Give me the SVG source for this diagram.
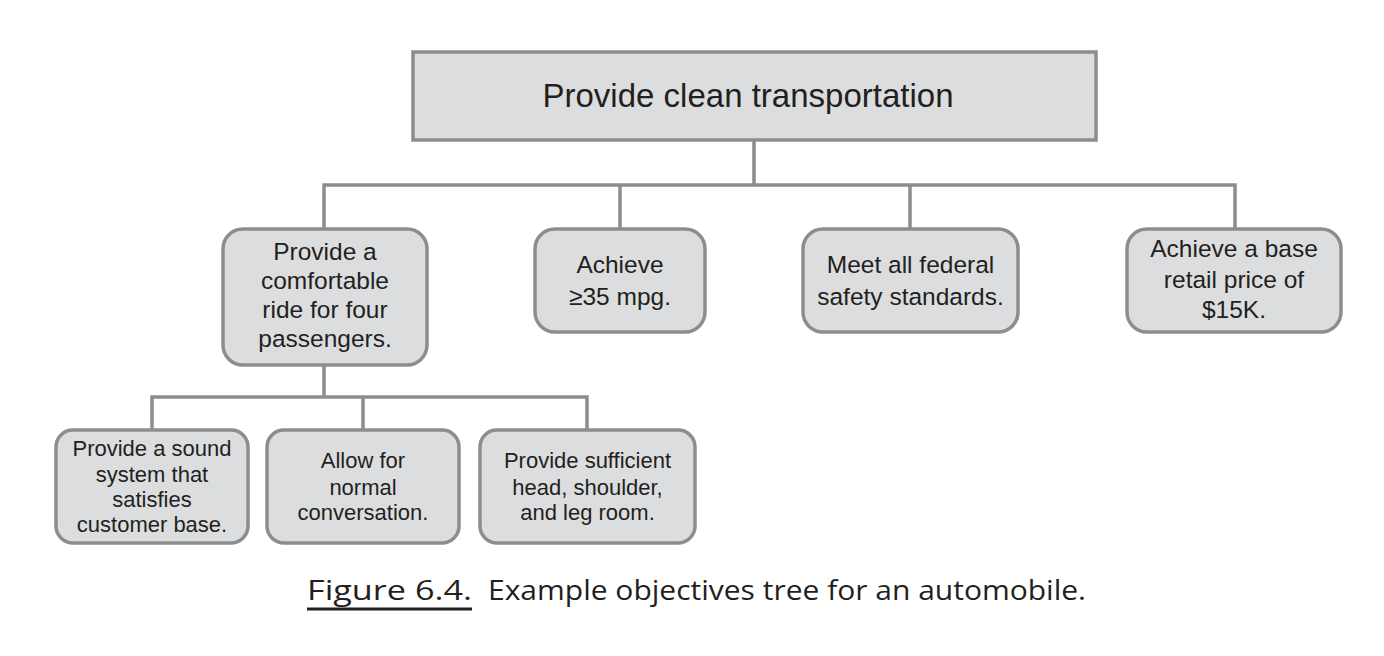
<svg xmlns="http://www.w3.org/2000/svg" width="1384" height="656" viewBox="0 0 1384 656">
<style>
.box{fill:#dcdddf;stroke:#8c8d8f;stroke-width:3.5}
.conn{fill:none;stroke:#8c8d8f;stroke-width:3.5;stroke-linejoin:miter}
.t{font-family:"Liberation Sans",Arial,sans-serif;fill:#231f20;text-anchor:middle}
.t1{font-size:33px}
.t2{font-size:24.5px}
.t3{font-size:22px}
.cap{font-family:"Open Sans","Noto Sans",sans-serif;fill:#231f20;font-size:27px}
</style>
<rect width="1384" height="656" fill="#ffffff"/>
<g id="connectors">
<path class="conn" d="M754,140 V185 M324,230 V185 H1235 V230 M620,185 V230 M910,185 V230"/>
<path class="conn" d="M324,365 V397 M152,430 V397 H587 V430 M363,397 V430"/>
</g>
<g id="root">
<rect class="box" x="413" y="52" width="683" height="88"/>
<text class="t t1" x="748" y="107" textLength="411" lengthAdjust="spacingAndGlyphs">Provide clean transportation</text>
</g>
<g id="comfort">
<rect class="box" x="223" y="229" width="204" height="136" rx="20"/>
<text class="t t2" x="325" y="260">Provide a</text>
<text class="t t2" x="325" y="289">comfortable</text>
<text class="t t2" x="325" y="318">ride for four</text>
<text class="t t2" x="325" y="347">passengers.</text>
</g>
<g id="mpg">
<rect class="box" x="535" y="229" width="170" height="103" rx="20"/>
<text class="t t2" x="620" y="273">Achieve</text>
<text class="t t2" x="620" y="305">≥35 mpg.</text>
</g>
<g id="safety">
<rect class="box" x="803" y="229" width="215" height="103" rx="20"/>
<text class="t t2" x="910.5" y="273">Meet all federal</text>
<text class="t t2" x="910.5" y="305">safety standards.</text>
</g>
<g id="price">
<rect class="box" x="1127" y="229" width="214" height="103" rx="20"/>
<text class="t t2" x="1234" y="257">Achieve a base</text>
<text class="t t2" x="1234" y="288">retail price of</text>
<text class="t t2" x="1234" y="318">$15K.</text>
</g>
<g id="sound">
<rect class="box" x="56" y="430" width="192" height="113" rx="17"/>
<text class="t t3" x="152" y="456">Provide a sound</text>
<text class="t t3" x="152" y="482">system that</text>
<text class="t t3" x="152" y="507">satisfies</text>
<text class="t t3" x="152" y="532">customer base.</text>
</g>
<g id="conversation">
<rect class="box" x="267" y="430" width="192" height="113" rx="17"/>
<text class="t t3" x="363" y="468">Allow for</text>
<text class="t t3" x="363" y="495">normal</text>
<text class="t t3" x="363" y="520">conversation.</text>
</g>
<g id="room">
<rect class="box" x="480" y="430" width="215" height="113" rx="17"/>
<text class="t t3" x="587.5" y="468">Provide sufficient</text>
<text class="t t3" x="587.5" y="495">head, shoulder,</text>
<text class="t t3" x="587.5" y="520">and leg room.</text>
</g>
<g id="caption">
<text class="cap" x="307" y="600" textLength="165" lengthAdjust="spacingAndGlyphs">Figure 6.4.</text>
<line x1="307" y1="609" x2="472" y2="609" stroke="#231f20" stroke-width="3"/>
<text class="cap" x="488" y="600" textLength="598" lengthAdjust="spacingAndGlyphs">Example objectives tree for an automobile.</text>
</g>
</svg>
